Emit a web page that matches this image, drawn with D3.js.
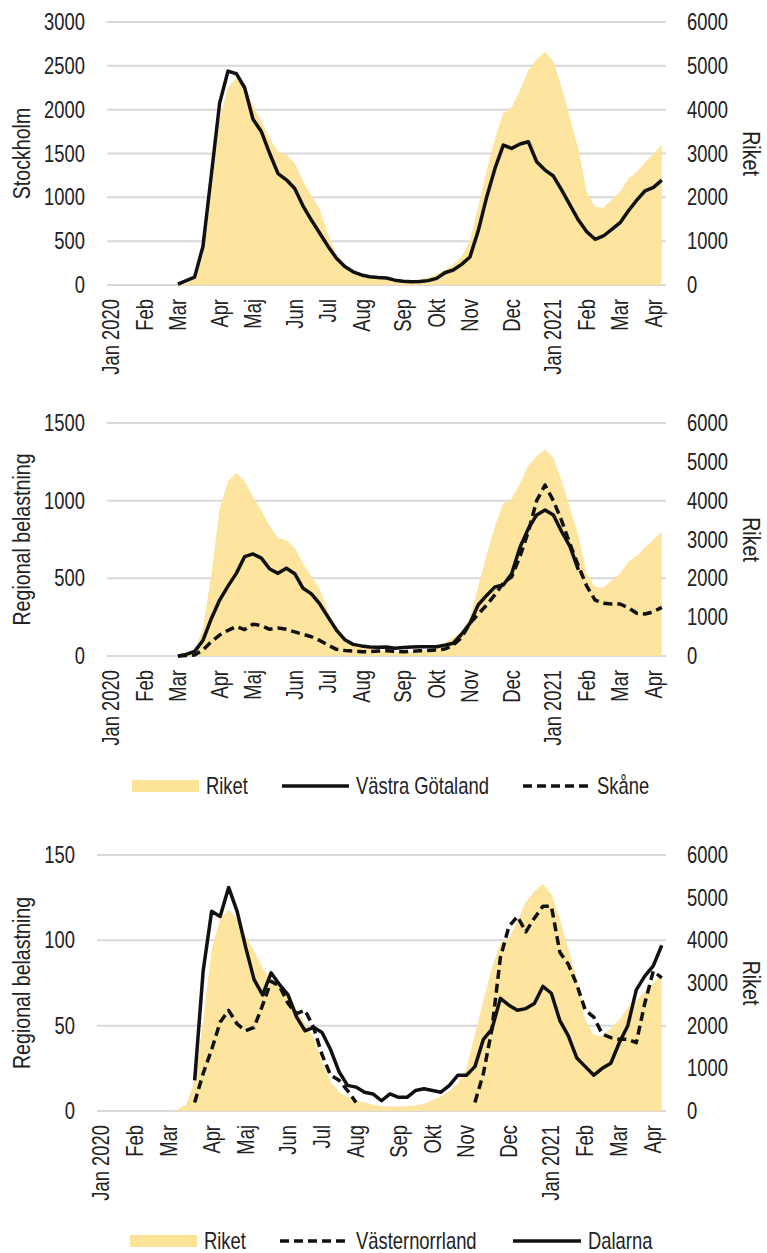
<!DOCTYPE html>
<html>
<head>
<meta charset="utf-8">
<script src="https://cdn.jsdelivr.net/npm/d3@7"></script>
<style>
  html, body { margin: 0; padding: 0; background: #fff; }
  svg { display: block; }
  text { font-family: 'Liberation Sans', Arial, sans-serif; fill: #222; }
</style>
</head>
<body>
<svg id="chart" width="767" height="1253"></svg>
<script>
// Weekly series, week index 0 = first week of Jan 2020, 66 = first half of Apr 2021
const weekCount = 67;

const monthLabels = ["Jan 2020", "Feb", "Mar", "Apr", "Maj", "Jun", "Jul", "Aug", "Sep", "Okt", "Nov", "Dec", "Jan 2021", "Feb", "Mar", "Apr"];
const monthWeeks  = [0, 4, 8, 13, 17, 22, 26, 30, 35, 39, 43, 48, 53, 57, 61, 65];

// National load (right axis)
const riket = [
  0, 0, 0, 0, 0, 0, 0, 0, 0, 30,
  150, 700, 2100, 3800, 4500, 4720, 4500, 4100, 3750, 3350,
  3040, 2980, 2780, 2380, 2050, 1730, 1150, 700, 450, 330,
  250, 200, 150, 120, 110, 100, 110, 130, 170, 250,
  340, 470, 650, 1000, 1800, 2600, 3350, 3930, 4050, 4450,
  4900, 5150, 5320, 5100, 4500, 3800, 3100, 2130, 1780, 1760,
  1950, 2130, 2430, 2580, 2800, 3000, 3200
];

const stockholm = [
  null, null, null, null, null, null, null, null, 10, 50,
  90, 440, 1250, 2075, 2440, 2410, 2250, 1890, 1750, 1500,
  1270, 1200, 1100, 900, 740, 590, 440, 305, 210, 150,
  115, 95, 85, 80, 55, 42, 38, 40, 50, 76,
  140, 171, 235, 320, 620, 1000, 1330, 1596, 1558, 1608,
  1634, 1406, 1311, 1243, 1083, 912, 741, 608, 521, 559,
  635, 711, 847, 969, 1075, 1114, 1197
];

const vastraGotaland = [
  null, null, null, null, null, null, null, null, 0, 10,
  30, 100, 240, 360, 450, 532, 640, 657, 630, 560,
  532, 565, 530, 436, 400, 335, 250, 167, 105, 75,
  65, 58, 56, 58, 50, 55, 58, 60, 60, 60,
  70, 82, 140, 210, 330, 390, 445, 457, 530, 700,
  820, 908, 940, 908, 800, 704, 554, null, null, null,
  null, null, null, null, null, null, null
];

const skane = [
  null, null, null, null, null, null, null, null, 0, 3,
  6, 39, 92, 135, 165, 190, 170, 205, 195, 172,
  180, 172, 155, 140, 124, 100, 70, 43, 36, 32,
  28, 28, 32, 34, 30, 28, 30, 34, 36, 39,
  45, 70, 120, 210, 270, 328, 395, 470, 510, 640,
  800, 1000, 1100, 1000, 870, 720, 580, 450, 360, 340,
  335, 335, 310, 275, 270, 285, 313
];

const vasternorrland = [
  null, null, null, null, null, null, null, null, null, null,
  null, 5, 22, 36, 52, 59, 51, 47, 49, 62,
  76, 73, 63, 57, 59, 49, 33, 21, 18, 12,
  5, null, null, null, null, null, null, null, null, null,
  null, null, null, null, 5, 22, 48, 90, 108, 114,
  105, 113, 120, 120, 93, 86, 74, 59, 55, 45,
  43, 42, 42, 40, 63, 82, 78
];

const dalarna = [
  null, null, null, null, null, null, null, null, null, null,
  null, 18, 82, 117, 114, 131, 117, 96, 77, 68,
  81, 74, 68, 55, 47, 49, 46, 36, 23, 15,
  14, 11, 10, 6, 10, 8, 8, 12, 13, 12,
  11, 15, 21, 21, 26, 42, 48, 66, 62, 59,
  60, 63, 73, 69, 53, 44, 31, 26, 21, 25,
  28, 40, 50, 71, 79, 85, 97
];

const rightTicks = [0, 1000, 2000, 3000, 4000, 5000, 6000];

const AREA_FILL = "#fde398";
const GRID = "#d9d9d9";
const INK = "#111";
const NARROW = 0.8; // horizontal squeeze giving a condensed face

const panels = [
  {
    left: 107, right: 666, top: 22, bottom: 285,
    leftMax: 3000, leftTicks: [0, 500, 1000, 1500, 2000, 2500, 3000],
    title: "Stockholm",
    lines: [{ values: stockholm, dash: null }],
    legend: null
  },
  {
    left: 107, right: 666, top: 423, bottom: 656,
    leftMax: 1500, leftTicks: [0, 500, 1000, 1500],
    title: "Regional belastning",
    lines: [{ values: vastraGotaland, dash: null }, { values: skane, dash: "9,5" }],
    legend: { y: 786, items: [
      { type: "area", x0: 132, x1: 199, label: "Riket" },
      { type: "line", x0: 282, x1: 349, label: "Västra Götaland", dash: null },
      { type: "line", x0: 523, x1: 590, label: "Skåne", dash: "9,5" }
    ] }
  },
  {
    left: 97, right: 666, top: 855, bottom: 1111,
    leftMax: 150, leftTicks: [0, 50, 100, 150],
    title: "Regional belastning",
    lines: [{ values: vasternorrland, dash: "9,5" }, { values: dalarna, dash: null }],
    legend: { y: 1241, items: [
      { type: "area", x0: 130, x1: 197, label: "Riket" },
      { type: "line", x0: 280, x1: 349, label: "Västernorrland", dash: "9,5" },
      { type: "line", x0: 513, x1: 581, label: "Dalarna", dash: null }
    ] }
  }
];

const svg = d3.select("#chart");

// place a condensed text label at (x, y) with optional rotation
function label(parent, x, y, rot, anchor, size, str) {
  return parent.append("text")
    .attr("transform", `translate(${x},${y}) rotate(${rot}) scale(${NARROW},1)`)
    .attr("dy", "0.35em")
    .attr("text-anchor", anchor)
    .attr("font-size", size)
    .text(str);
}

panels.forEach(p => {
  const g = svg.append("g");
  const x = d3.scalePoint().domain(d3.range(weekCount)).range([p.left, p.right]).padding(0.5);
  const yL = d3.scaleLinear().domain([0, p.leftMax]).range([p.bottom, p.top]);
  const yR = d3.scaleLinear().domain([0, 6000]).range([p.bottom, p.top]);

  // gridlines follow the left axis ticks
  g.append("g").selectAll("line").data(p.leftTicks).join("line")
    .attr("x1", p.left).attr("x2", p.right)
    .attr("y1", d => yL(d)).attr("y2", d => yL(d))
    .attr("stroke", GRID).attr("stroke-width", 2);

  // national series as filled area on the right axis
  const area = d3.area()
    .x((d, i) => x(i))
    .y0(yR(0))
    .y1(d => yR(d));
  g.append("path").datum(riket)
    .attr("d", area)
    .attr("fill", AREA_FILL)
    .attr("fill-opacity", 0.92);

  // regional lines on the left axis
  const line = d3.line()
    .defined(d => d != null)
    .x((d, i) => x(i))
    .y(d => yL(d));
  p.lines.forEach(s => {
    g.append("path").datum(s.values)
      .attr("d", line)
      .attr("fill", "none")
      .attr("stroke", INK)
      .attr("stroke-width", 3.5)
      .attr("stroke-linejoin", "round")
      .attr("stroke-dasharray", s.dash);
  });

  // left axis labels
  const la = g.append("g");
  p.leftTicks.forEach(d => label(la, p.left - 22, yL(d), 0, "end", 23, d));

  // right axis labels
  const ra = g.append("g");
  rightTicks.forEach(d => label(ra, 687, yR(d), 0, "start", 23, d));

  // month labels, rotated
  const xa = g.append("g");
  monthLabels.forEach((m, i) => label(xa, x(monthWeeks[i]), p.bottom + 14, -90, "end", 23, m));

  // axis titles
  const midY = (p.top + p.bottom) / 2;
  label(g, 21, midY, -90, "middle", 24.5, p.title);
  label(g, 752, midY, 90, "middle", 24.5, "Riket");

  // legend
  if (p.legend) {
    const lg = g.append("g");
    p.legend.items.forEach(it => {
      if (it.type === "area") {
        lg.append("rect")
          .attr("x", it.x0).attr("y", p.legend.y - 6)
          .attr("width", it.x1 - it.x0).attr("height", 12)
          .attr("fill", AREA_FILL);
      } else {
        lg.append("line")
          .attr("x1", it.x0).attr("x2", it.x1)
          .attr("y1", p.legend.y).attr("y2", p.legend.y)
          .attr("stroke", INK).attr("stroke-width", 3.5)
          .attr("stroke-dasharray", it.dash);
      }
      label(lg, it.x1 + 7, p.legend.y, 0, "start", 23, it.label);
    });
  }
});
</script>
</body>
</html>
